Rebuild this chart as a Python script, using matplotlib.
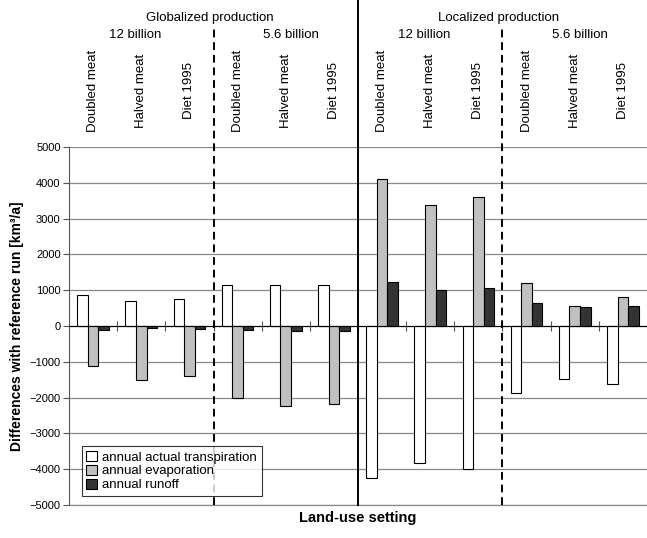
import numpy as np
import matplotlib
matplotlib.use('Agg')
import matplotlib.pyplot as plt

plt.rcParams['font.family'] = ['Liberation Sans', 'DejaVu Sans']

# scenarios, left to right
diets = ['Doubled meat', 'Halved meat', 'Diet 1995'] * 4
populations = ['12 billion', '5.6 billion', '12 billion', '5.6 billion']
productions = ['Globalized production', 'Localized production']

# differences with reference run [km3/a]
transpiration = [870, 700, 750, 1150, 1150, 1150, -4250, -3830, -4000, -1870, -1470, -1610]
evaporation = [-1130, -1500, -1390, -2020, -2230, -2180, 4100, 3370, 3600, 1200, 570, 800]
runoff = [-100, -50, -80, -120, -150, -140, 1240, 1000, 1060, 650, 530, 570]

series_labels = ['annual actual transpiration', 'annual evaporation', 'annual runoff']
colors = ['white', '#c0c0c0', '#333333']

fig = plt.figure(figsize=(6.47, 5.38), dpi=100)
ax = fig.add_axes([69 / 647, 33 / 538, 578 / 647, 358 / 538])

x = np.arange(len(diets))
width = 0.22
for i, (vals, lab, col) in enumerate(zip([transpiration, evaporation, runoff], series_labels, colors)):
    ax.bar(x + (i - 1) * width, vals, width, color=col, edgecolor='black', linewidth=0.8,
           label=lab, zorder=3)

ax.set_xlim(-0.5, len(diets) - 0.5)
ax.set_ylim(-5000, 5000)
ax.set_yticks(np.arange(-5000, 5001, 1000))
ax.yaxis.grid(True, color='#888888', linewidth=0.9)
ax.axhline(-5000, color='#888888', linewidth=0.9, clip_on=False, zorder=1)
ax.set_axisbelow(True)
ax.tick_params(axis='y', labelsize=8, length=4, width=0.8, color='#555555', pad=2)

# zero line with ticks between scenarios
ax.spines['bottom'].set_position(('data', 0))
ax.spines['bottom'].set_color('black')
ax.spines['bottom'].set_zorder(4)
ax.set_xticks(np.arange(0.5, len(diets) - 0.5, 1))
ax.set_xticklabels([])
ax.tick_params(axis='x', direction='inout', length=7, width=0.8, color='#555555')
ax.spines['top'].set_visible(False)
ax.spines['right'].set_visible(False)
ax.spines['left'].set_color('#555555')

ax.set_ylabel('Differences with reference run [km³/a]', fontsize=10, fontweight='bold', labelpad=4)
fig.text(358 / 647, 1 - 518 / 538, 'Land-use setting', fontsize=10.5, fontweight='bold',
         ha='center', va='center')

# separators: solid between production types, dashed between populations
top_solid = 1 + 147 / 358
top_dashed = 1 + (147 - 29) / 358
ax.axvline(5.5, ymin=0, ymax=top_solid, color='black', linewidth=1.4, clip_on=False, zorder=5)
for xv in [2.5, 8.5]:
    ax.axvline(xv, ymin=0, ymax=top_dashed, color='black', linewidth=1.4, linestyle=(0, (4, 2.5)),
               clip_on=False, zorder=5)

# header texts above the plot
trans = ax.get_xaxis_transform()
for j, lab in enumerate(productions):
    ax.text(j * 6 + 2.42, 1 + (147 - 18) / 358, lab, transform=trans, ha='center', va='center',
            fontsize=9.5)
for j, lab in enumerate(populations):
    ax.text(j * 3 + (0.88 if j % 2 == 0 else 1.1), 1 + (147 - 35) / 358, lab, transform=trans,
            ha='center', va='center', fontsize=9.5)
for i, lab in enumerate(diets):
    ax.text(i, 1 + (147 - 91) / 358, lab, transform=trans, ha='center', va='center',
            rotation=90, fontsize=9.5)

leg = ax.legend(loc='lower left', bbox_to_anchor=(0.022, 0.025), fontsize=9.5, frameon=True,
                fancybox=False, edgecolor='black', handlelength=0.8, handleheight=0.8,
                handletextpad=0.4, labelspacing=0.1, borderpad=0.35, borderaxespad=0)
leg.get_frame().set_linewidth(0.8)
leg.set_zorder(6)

fig.savefig('out.png', dpi=100)
